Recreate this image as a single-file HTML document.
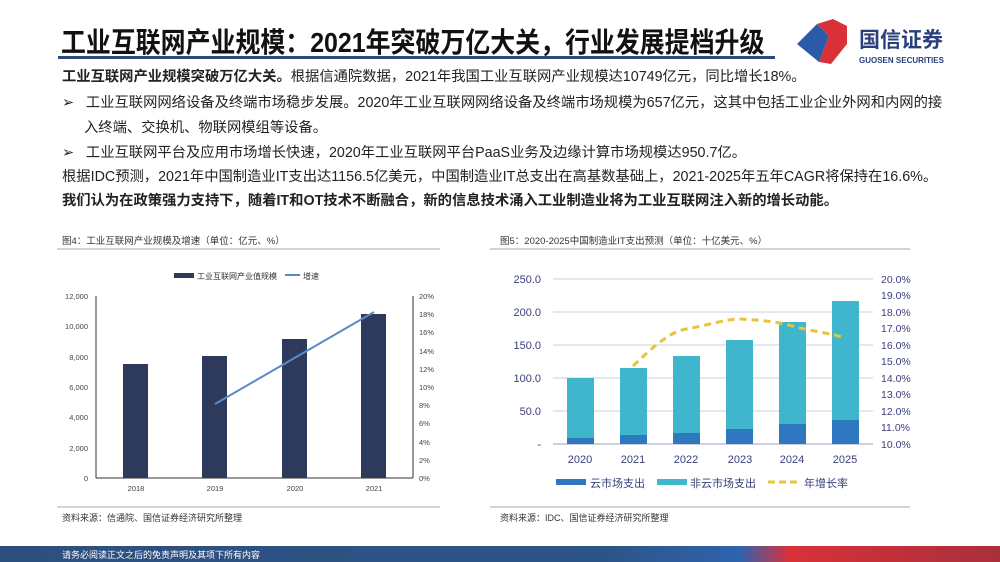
<!DOCTYPE html>
<html><head><meta charset="utf-8"><style>
body{margin:0;width:1000px;height:562px;background:#fff;position:relative;overflow:hidden;font-family:"Liberation Sans","Noto Sans CJK SC",sans-serif;color:#222}
.t{position:absolute;white-space:nowrap}
.p{font-size:14.3px;left:62px;line-height:18px}
</style></head><body>
<div class="t" style="left:61px;top:21px;font-size:28px;font-weight:bold;color:#111;transform:scaleX(0.89);transform-origin:left top">工业互联网产业规模：2021年突破万亿大关，行业发展提档升级</div>
<div style="position:absolute;left:58px;top:56px;width:717px;height:3px;background:#2b4a7a"></div>
<svg style="position:absolute;left:795px;top:18px" width="165" height="50">
<polygon points="2,26 22,6 34,18 24,44" fill="#2a5aa8"/>
<polygon points="22,6 38,1 52,8 52,26 36,46 24,44 34,18" fill="#d8313a"/>
<text x="64" y="29" font-size="21" font-weight="bold" fill="#2a3f7a" font-family="Liberation Sans,Noto Sans CJK SC,sans-serif">国信证券</text>
<text x="64" y="45" font-size="8" font-weight="bold" fill="#2a3f7a" font-family="Liberation Sans,sans-serif">GUOSEN SECURITIES</text>
</svg>
<div class="t p" style="top:68px"><b>工业互联网产业规模突破万亿大关。</b>根据信通院数据，2021年我国工业互联网产业规模达10749亿元，同比增长18%。</div>
<div class="t p" style="top:94px">➢&nbsp;&nbsp; 工业互联网网络设备及终端市场稳步发展。2020年工业互联网网络设备及终端市场规模为657亿元，这其中包括工业企业外网和内网的接</div>
<div class="t p" style="top:119px;left:84px">入终端、交换机、物联网模组等设备。</div>
<div class="t p" style="top:144px">➢&nbsp;&nbsp; 工业互联网平台及应用市场增长快速，2020年工业互联网平台PaaS业务及边缘计算市场规模达950.7亿。</div>
<div class="t p" style="top:168px">根据IDC预测，2021年中国制造业IT支出达1156.5亿美元，中国制造业IT总支出在高基数基础上，2021-2025年五年CAGR将保持在16.6%。</div>
<div class="t p" style="top:192px;font-weight:bold">我们认为在政策强力支持下，随着IT和OT技术不断融合，新的信息技术涌入工业制造业将为工业互联网注入新的增长动能。</div>

<svg style="position:absolute;left:0;top:0" width="1000" height="562" font-family="Liberation Sans,Noto Sans CJK SC,sans-serif">
<text x="62" y="244" font-size="9.5" fill="#333">图4：工业互联网产业规模及增速（单位：亿元、%）</text>
<line x1="57" y1="249" x2="440" y2="249" stroke="#aaa"/>
<line x1="57" y1="507" x2="440" y2="507" stroke="#aaa"/>
<text x="62" y="521" font-size="9" fill="#333">资料来源：信通院、国信证券经济研究所整理</text>
<rect x="174" y="273" width="20" height="5" fill="#2e3a5c"/>
<text x="197" y="279" font-size="8" fill="#333">工业互联网产业值规模</text>
<line x1="285" y1="275" x2="300" y2="275" stroke="#5b8ac8" stroke-width="2"/>
<text x="303" y="279" font-size="8" fill="#333">增速</text>
<g stroke="#333" stroke-width="1">
<line x1="96" y1="296" x2="96" y2="478"/><line x1="96" y1="478" x2="413" y2="478"/><line x1="413" y1="296" x2="413" y2="478"/>
</g>
<g font-size="7.5" fill="#444" text-anchor="end">
<text x="88" y="299">12,000</text><text x="88" y="329">10,000</text><text x="88" y="360">8,000</text><text x="88" y="390">6,000</text><text x="88" y="420">4,000</text><text x="88" y="451">2,000</text><text x="88" y="481">0</text>
</g>
<g font-size="7.5" fill="#444">
<text x="419" y="299">20%</text><text x="419" y="317">18%</text><text x="419" y="335">16%</text><text x="419" y="354">14%</text><text x="419" y="372">12%</text><text x="419" y="390">10%</text><text x="419" y="408">8%</text><text x="419" y="426">6%</text><text x="419" y="445">4%</text><text x="419" y="463">2%</text><text x="419" y="481">0%</text>
</g>
<g fill="#2e3a5c">
<rect x="123" y="364" width="25" height="114"/><rect x="202" y="356" width="25" height="122"/><rect x="282" y="339" width="25" height="139"/><rect x="361" y="314" width="25" height="164"/>
</g>
<polyline points="215,404 374,312" stroke="#5b8ac8" stroke-width="2" fill="none"/>
<g font-size="7.5" fill="#444" text-anchor="middle">
<text x="136" y="491">2018</text><text x="215" y="491">2019</text><text x="295" y="491">2020</text><text x="374" y="491">2021</text>
</g>

<text x="500" y="244" font-size="9.5" fill="#333">图5：2020-2025中国制造业IT支出预测（单位：十亿美元、%）</text>
<line x1="490" y1="249" x2="910" y2="249" stroke="#aaa"/>
<line x1="490" y1="507" x2="910" y2="507" stroke="#aaa"/>
<text x="500" y="521" font-size="9" fill="#333">资料来源：IDC、国信证券经济研究所整理</text>
<g stroke="#c8cce0" stroke-width="1">
<line x1="553" y1="279" x2="873" y2="279"/><line x1="553" y1="312" x2="873" y2="312"/><line x1="553" y1="345" x2="873" y2="345"/><line x1="553" y1="378" x2="873" y2="378"/><line x1="553" y1="411" x2="873" y2="411"/><line x1="553" y1="444" x2="873" y2="444" stroke="#9aa0c0"/>
</g>
<g font-size="11" fill="#3a3f7a" text-anchor="end">
<text x="541" y="283">250.0</text><text x="541" y="316">200.0</text><text x="541" y="349">150.0</text><text x="541" y="382">100.0</text><text x="541" y="415">50.0</text><text x="541" y="448">-</text>
</g>
<g font-size="10.5" fill="#3a3f7a">
<text x="881" y="283">20.0%</text><text x="881" y="299">19.0%</text><text x="881" y="316">18.0%</text><text x="881" y="332">17.0%</text><text x="881" y="349">16.0%</text><text x="881" y="365">15.0%</text><text x="881" y="382">14.0%</text><text x="881" y="398">13.0%</text><text x="881" y="415">12.0%</text><text x="881" y="431">11.0%</text><text x="881" y="448">10.0%</text>
</g>
<g fill="#3fb6cb">
<rect x="567" y="378" width="27" height="66"/><rect x="620" y="368" width="27" height="76"/><rect x="673" y="356" width="27" height="88"/><rect x="726" y="340" width="27" height="104"/><rect x="779" y="322" width="27" height="122"/><rect x="832" y="301" width="27" height="143"/>
</g>
<g fill="#2e78bf">
<rect x="567" y="438" width="27" height="6"/><rect x="620" y="435" width="27" height="9"/><rect x="673" y="433" width="27" height="11"/><rect x="726" y="429" width="27" height="15"/><rect x="779" y="424" width="27" height="20"/><rect x="832" y="420" width="27" height="24"/>
</g>
<path d="M633,366 C655,345 670,332 686,329 C710,325 725,319 740,319 C760,320 780,322 792,326 C815,332 830,333 845,338" stroke="#e8c43a" stroke-width="3" stroke-dasharray="7,5" fill="none"/>
<g font-size="11" fill="#3a3f7a" text-anchor="middle">
<text x="580" y="463">2020</text><text x="633" y="463">2021</text><text x="686" y="463">2022</text><text x="740" y="463">2023</text><text x="792" y="463">2024</text><text x="845" y="463">2025</text>
</g>
<rect x="556" y="479" width="30" height="6" fill="#2e78bf"/>
<text x="590" y="487" font-size="11" fill="#3a3f7a">云市场支出</text>
<rect x="657" y="479" width="30" height="6" fill="#3fb6cb"/>
<text x="690" y="487" font-size="11" fill="#3a3f7a">非云市场支出</text>
<line x1="768" y1="482" x2="800" y2="482" stroke="#e8c43a" stroke-width="3" stroke-dasharray="7,4"/>
<text x="804" y="487" font-size="11" fill="#3a3f7a">年增长率</text>

<defs><linearGradient id="f" x1="0" x2="1"><stop offset="0" stop-color="#2d4f7e"/><stop offset="0.6" stop-color="#2d5486"/><stop offset="0.74" stop-color="#2f63ad"/><stop offset="0.79" stop-color="#d8313a"/><stop offset="1" stop-color="#a8303a"/></linearGradient></defs>
<rect x="0" y="546" width="1000" height="16" fill="url(#f)"/>
<text x="62" y="558" font-size="9" fill="#fff">请务必阅读正文之后的免责声明及其项下所有内容</text>
</svg>
</body></html>
